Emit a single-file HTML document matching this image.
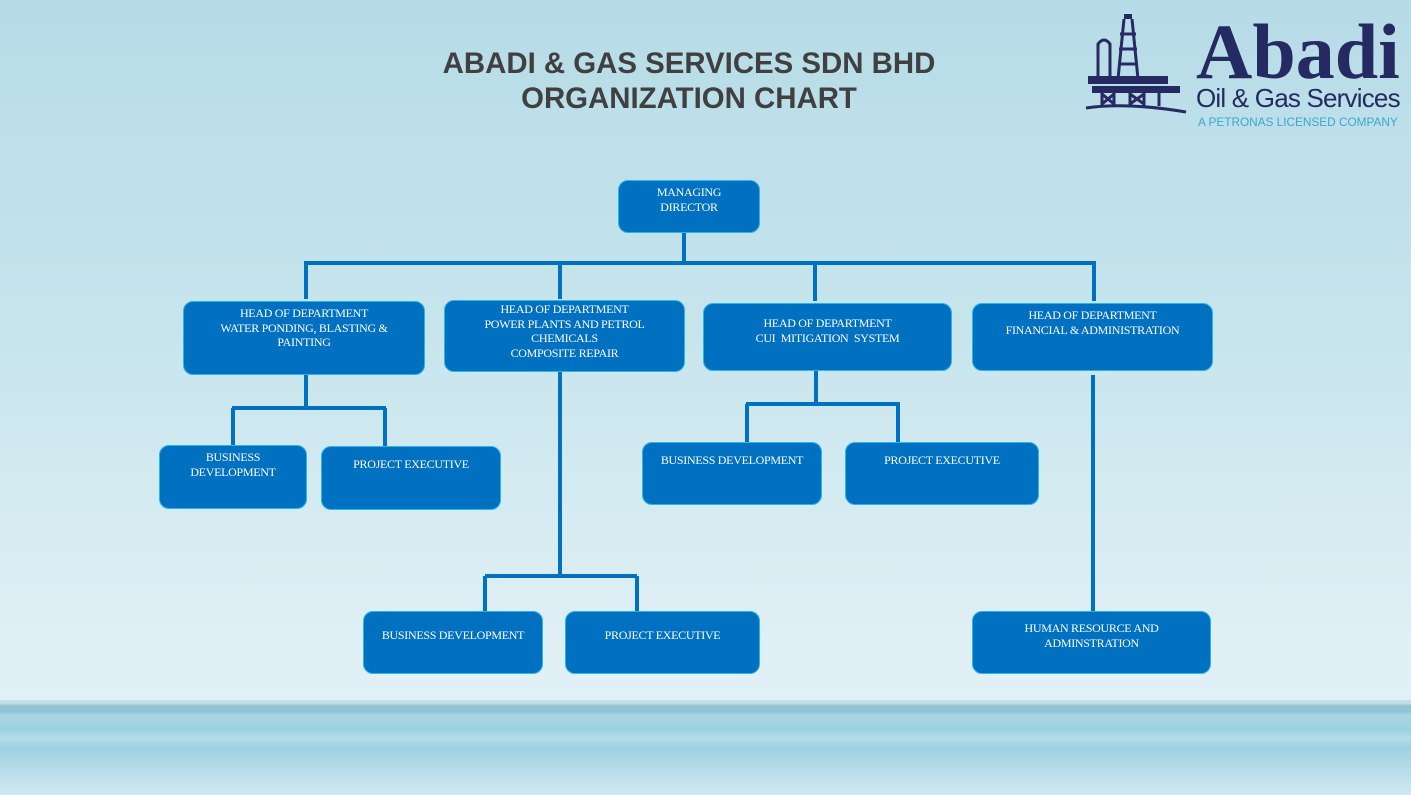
<!DOCTYPE html>
<html><head><meta charset="utf-8"><style>
*{margin:0;padding:0;box-sizing:border-box}
body{width:1411px;height:795px;position:relative;overflow:hidden;font-family:"Liberation Serif",serif;
background:linear-gradient(180deg,#b6dce7 0%,#c6e4ec 40%,#dceef4 75%,#e2f1f6 88%,#e2f1f6 100%)}
.sea{position:absolute;left:0;top:700px;width:1411px;height:95px;
background:linear-gradient(180deg,#c4dfe6 0px,#c4dfe6 3px,#94c4d3 6px,#8fc4d4 12px,#aad7e4 15px,#9ccfdf 30px,#b5dde8 38px,#9dd0e0 48px,#a9d6e4 58px,#b6dde8 70px,#cfe8f0 95px)}
.b{position:absolute;background:#0070c0;border:1.5px solid #29b6e8;border-radius:10px;color:#fff;text-align:center;font-size:12px;line-height:14.5px;padding-top:4px;letter-spacing:-0.3px}
.l{position:absolute;background:#0070c0}
h1{position:absolute;left:339px;width:700px;top:46px;text-align:center;font-family:"Liberation Sans",sans-serif;font-weight:bold;font-size:29.4px;line-height:35px;color:#404040}
</style></head><body>
<div class="sea"></div>
<h1>ABADI &amp; GAS SERVICES SDN BHD<br>ORGANIZATION CHART</h1>

<svg style="position:absolute;left:1084px;top:14px" width="112" height="100" viewBox="0 0 112 100">
<g fill="none" stroke="#252a63" stroke-width="3">
<path d="M40 5 L34 65 M48 5 L54 65 M36 20h16 M35 35h18 M35 50h18"/>
<path d="M14 65 V30 q6-8 12 0 V65"/>
<path d="M18 78v14 M30 78v14 M46 78v14 M60 78v14 M75 78v14"/>
<path d="M18 80l12 10 M30 80l-12 10 M46 80l14 10 M60 80l-14 10"/>
</g>
<rect x="4" y="62" width="80" height="8" fill="#252a63"/>
<rect x="8" y="72" width="88" height="7" fill="#252a63"/>
<rect x="40" y="0" width="8" height="5" fill="#252a63"/>
<path d="M2 94 q40 -6 100 4" stroke="#252a63" stroke-width="3" fill="none"/>
</svg>
<div style="position:absolute;left:1196px;top:12px;font-family:'Liberation Serif',serif;font-weight:bold;font-size:78px;line-height:80px;color:#252a63;letter-spacing:0px">Abadi</div>
<div style="position:absolute;left:1196px;top:84px;font-family:'Liberation Sans',sans-serif;font-size:26px;line-height:28px;color:#252a63;letter-spacing:-0.8px">Oil &amp; Gas Services</div>
<div style="position:absolute;left:1198px;top:116px;font-family:'Liberation Sans',sans-serif;font-size:11.8px;line-height:13px;color:#3aa7d2">A PETRONAS LICENSED COMPANY</div>

<div class="l" style="left:682px;top:233px;width:4px;height:30px"></div>
<div class="l" style="left:304px;top:261px;width:792px;height:4px"></div>
<div class="l" style="left:304px;top:261px;width:4px;height:38px"></div>
<div class="l" style="left:558px;top:261px;width:4px;height:38px"></div>
<div class="l" style="left:813px;top:261px;width:4px;height:40px"></div>
<div class="l" style="left:1092px;top:261px;width:4px;height:40px"></div>

<div class="l" style="left:304px;top:375px;width:4px;height:32px"></div>
<div class="l" style="left:232px;top:406px;width:154px;height:4px"></div>
<div class="l" style="left:231px;top:408px;width:4px;height:37px"></div>
<div class="l" style="left:383px;top:408px;width:4px;height:38px"></div>

<div class="l" style="left:558px;top:372px;width:4px;height:204px"></div>
<div class="l" style="left:485px;top:574px;width:152px;height:4px"></div>
<div class="l" style="left:483px;top:576px;width:4px;height:35px"></div>
<div class="l" style="left:635px;top:576px;width:4px;height:35px"></div>

<div class="l" style="left:814px;top:371px;width:4px;height:33px"></div>
<div class="l" style="left:746px;top:402px;width:154px;height:4px"></div>
<div class="l" style="left:745px;top:404px;width:4px;height:38px"></div>
<div class="l" style="left:896px;top:404px;width:4px;height:38px"></div>

<div class="l" style="left:1091px;top:375px;width:4px;height:236px"></div>

<div class="b" style="left:618px;top:180px;width:142px;height:53px">MANAGING<br>DIRECTOR</div>
<div class="b" style="left:183px;top:301px;width:242px;height:74px">HEAD OF DEPARTMENT<br>WATER PONDING, BLASTING &amp;<br>PAINTING</div>
<div class="b" style="left:444px;top:300px;width:241px;height:72px;padding-top:1px">HEAD OF DEPARTMENT<br>POWER PLANTS AND PETROL<br>CHEMICALS<br>COMPOSITE REPAIR</div>
<div class="b" style="left:703px;top:303px;width:249px;height:68px;padding-top:12px">HEAD OF DEPARTMENT<br>CUI&nbsp; MITIGATION&nbsp; SYSTEM</div>
<div class="b" style="left:972px;top:303px;width:241px;height:68px">HEAD OF DEPARTMENT<br>FINANCIAL &amp; ADMINISTRATION</div>
<div class="b" style="left:159px;top:445px;width:148px;height:64px">BUSINESS<br>DEVELOPMENT</div>
<div class="b" style="left:321px;top:446px;width:180px;height:64px;padding-top:10px">PROJECT EXECUTIVE</div>
<div class="b" style="left:642px;top:442px;width:180px;height:63px;padding-top:10px">BUSINESS DEVELOPMENT</div>
<div class="b" style="left:845px;top:442px;width:194px;height:63px;padding-top:10px">PROJECT EXECUTIVE</div>
<div class="b" style="left:363px;top:611px;width:180px;height:63px;padding-top:16px">BUSINESS DEVELOPMENT</div>
<div class="b" style="left:565px;top:611px;width:195px;height:63px;padding-top:16px">PROJECT EXECUTIVE</div>
<div class="b" style="left:972px;top:611px;width:239px;height:63px;padding-top:9px">HUMAN RESOURCE AND<br>ADMINSTRATION</div>
</body></html>
